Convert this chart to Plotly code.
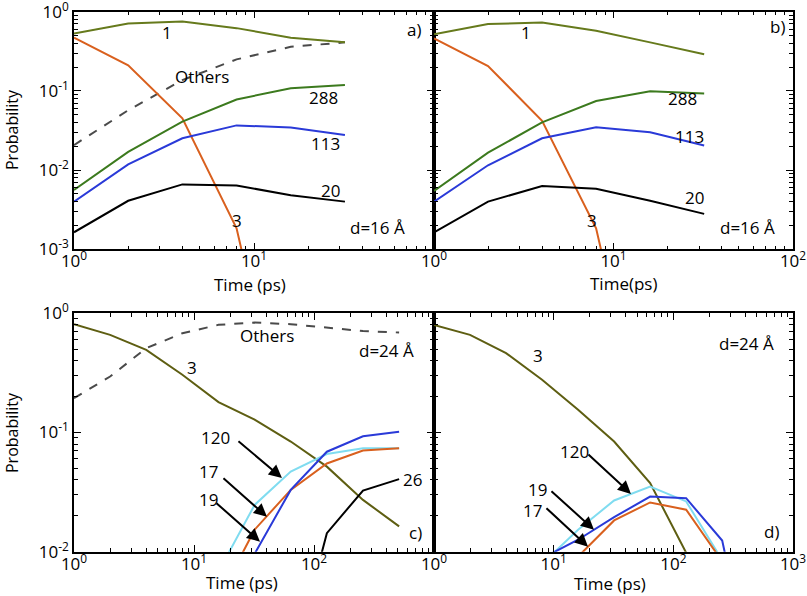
import plotly.graph_objects as go

# time points (ps)
t_top = [1, 2, 4, 8, 16, 32]
t_bot = [1, 2, 4, 8, 16, 32, 64, 128, 256, 512]

# panel a, d=16 A
a_1 = [0.53, 0.71, 0.75, 0.62, 0.47, 0.41]
a_3 = [0.47, 0.21, 0.045, 0.00184, 2e-6]
a_others = [0.0207, 0.057, 0.137, 0.25, 0.36, 0.41]
a_288 = [0.0056, 0.017, 0.041, 0.078, 0.108, 0.119]
a_113 = [0.004, 0.0118, 0.0252, 0.0367, 0.0344, 0.0277]
a_20 = [0.00164, 0.0041, 0.0066, 0.0064, 0.0048, 0.0040]

# panel b, d=16 A
b_1 = [0.52, 0.70, 0.73, 0.575, 0.41, 0.29]
b_3 = [0.46, 0.206, 0.042, 0.00184, 2e-6]
b_288 = [0.00545, 0.0166, 0.040, 0.0746, 0.099, 0.093]
b_113 = [0.004, 0.0115, 0.0252, 0.0347, 0.030, 0.0204]
b_20 = [0.00164, 0.004, 0.0063, 0.0058, 0.0041, 0.0028]

# panel c, d=24 A
c_3 = [0.81, 0.659, 0.493, 0.305, 0.18, 0.128, 0.084, 0.0517, 0.0272, 0.0163]
c_others = [0.194, 0.295, 0.51, 0.68, 0.80, 0.836, 0.81, 0.76, 0.71, 0.69]
t_c = [16, 32, 64, 128, 256, 512]
c_120 = [0.0068, 0.0247, 0.047, 0.066, 0.0738, 0.0738]
c_17 = [0.004, 0.0153, 0.033, 0.055, 0.0705, 0.0738]
c_19 = [0.0029, 0.0096, 0.033, 0.069, 0.093, 0.1016]
t_c26 = [64, 128, 256, 512]
c_26 = [0.001, 0.0143, 0.0326, 0.0406]

# panel d, d=24 A
d_3 = [0.80, 0.659, 0.463, 0.277, 0.155, 0.084, 0.0376, 0.0098, 0.001]
t_d = [8, 16, 32, 64, 128, 256, 512]
d_120 = [0.0079, 0.0153, 0.0269, 0.0352, 0.0264, 0.0085, 0.0005]
d_19 = [0.0088, 0.0126, 0.0195, 0.029, 0.0281, 0.0124, 0.0005]
d_17 = [0.005, 0.0091, 0.0183, 0.0259, 0.0225, 0.0083, 0.0005]

OLIVE = "#667a1c"
OLIVE2 = "#5e5e12"
GREEN = "#3c7a1e"
ORANGE = "#d9601e"
BLUE = "#2a3ad8"
CYAN = "#80dcf0"
GRAY = "#4a4a4a"
FONT = "Open Sans"
FS = 17
FS_TICK = 17

W, H = 807, 596

fig = go.Figure()


def line(x, y, color, ax, dash="solid"):
    fig.add_trace(go.Scatter(x=x, y=y, mode="lines", xaxis="x" + ax, yaxis="y" + ax,
                             line=dict(color=color, width=2, dash=dash),
                             showlegend=False, hoverinfo="skip"))


# a
line(t_top, a_others, GRAY, "", "dash")
line(t_top, a_1, OLIVE, "")
line(t_top[:5], a_3, ORANGE, "")
line(t_top, a_288, GREEN, "")
line(t_top, a_113, BLUE, "")
line(t_top, a_20, "black", "")
# b
line(t_top, b_1, OLIVE, "2")
line(t_top[:5], b_3, ORANGE, "2")
line(t_top, b_288, GREEN, "2")
line(t_top, b_113, BLUE, "2")
line(t_top, b_20, "black", "2")
# c
line(t_bot, c_others, GRAY, "3", "dash")
line(t_bot, c_3, OLIVE2, "3")
line(t_c, c_120, CYAN, "3")
line(t_c, c_17, ORANGE, "3")
line(t_c, c_19, BLUE, "3")
line(t_c26, c_26, "black", "3")
# d
line(t_bot[:9], d_3, OLIVE2, "4")
line(t_d, d_120, CYAN, "4")
line(t_d, d_17, ORANGE, "4")
line(t_d, d_19, BLUE, "4")


def sup(n):
    return "10<sup>%d</sup>" % n


def minor_vals(lo, hi):
    return [k * 10 ** e for e in range(lo, hi) for k in range(2, 10)]


def common():
    return dict(type="log", automargin=False, tickmode="array",
                ticks="inside", ticklen=7, tickwidth=1.2, tickcolor="black",
                showline=True, linecolor="black", linewidth=1.5, mirror="allticks",
                showgrid=False, zeroline=False, ticklabeloverflow="allow",
                tickfont=dict(family=FONT, size=FS_TICK, color="black"))


def xax(ndec, labels, dom, anchor):
    vals = [10 ** i for i in range(ndec + 1)]
    text = [sup(i) if i in labels else "" for i in range(ndec + 1)]
    d = common()
    d.update(range=[0, ndec], domain=dom, anchor=anchor, tickvals=vals, ticktext=text,
             ticklabelstandoff=-4,
             minor=dict(tickmode="array", tickvals=minor_vals(0, ndec), ticks="inside",
                        ticklen=4, tickcolor="black", showgrid=False))
    return d


def yax(lo, show, dom, anchor):
    vals = [10 ** i for i in range(lo, 1)]
    text = [sup(i) if show else "" for i in range(lo, 1)]
    d = common()
    d.update(range=[lo, 0], domain=dom, anchor=anchor, tickvals=vals, ticktext=text,
             minor=dict(tickmode="array", tickvals=minor_vals(lo, 0), ticks="inside",
                        ticklen=4, tickcolor="black", showgrid=False))
    return d


xl, xm, xr = 74 / W, 434 / W, 793 / W
top_dom = [1 - 249.3 / H, 1 - 11.7 / H]
bot_dom = [1 - 551.7 / H, 1 - 313.3 / H]

fig.update_layout(
    width=W, height=H, margin=dict(l=0, r=0, t=0, b=0, pad=0), autosize=False,
    paper_bgcolor="white", plot_bgcolor="white",
    font=dict(family=FONT, size=FS, color="black"),
    xaxis=xax(2, [0, 1], [xl, xm], "y"),
    yaxis=yax(-3, True, top_dom, "x"),
    xaxis2=xax(2, [0, 1, 2], [xm, xr], "y2"),
    yaxis2=yax(-3, False, top_dom, "x2"),
    xaxis3=xax(3, [0, 1, 2], [xl, xm], "y3"),
    yaxis3=yax(-2, True, bot_dom, "x3"),
    xaxis4=xax(3, [0, 1, 2, 3], [xm, xr], "y4"),
    yaxis4=yax(-2, False, bot_dom, "x4"),
)

ann = []


def txt(ax, lx, ly, s):
    ann.append(dict(x=lx, y=ly, xref="x" + ax, yref="y" + ax, text=s, showarrow=False,
                    xanchor="center", yanchor="middle",
                    font=dict(family=FONT, size=FS, color="black")))


def arrow(ax, tx, ty, hx, hy):
    ann.append(dict(x=hx, y=hy, ax=tx, ay=ty, xref="x" + ax, yref="y" + ax,
                    axref="x" + ax, ayref="y" + ax, text="", showarrow=True,
                    arrowhead=2, arrowsize=1.3, arrowwidth=2, arrowcolor="black"))


# a labels (positions in log10 units)
txt("", 0.518, -0.266, "1")
txt("", 1.889, -0.22, "a)")
txt("", 0.713, -0.82, "Others")
txt("", 1.387, -1.086, "288")
txt("", 1.398, -1.667, "113")
txt("", 1.426, -2.26, "20")
txt("", 0.908, -2.63, "3")
txt("", 1.688, -2.72, "d=16 Å")
# b labels
txt("2", 0.513, -0.266, "1")
txt("2", 1.911, -0.19, "b)")
txt("2", 1.382, -1.09, "288")
txt("2", 1.426, -1.57, "113")
txt("2", 1.454, -2.34, "20")
txt("2", 0.88, -2.63, "3")
txt("2", 1.749, -2.73, "d=16 Å")
# c labels
txt("3", 1.608, -0.184, "Others")
txt("3", 2.608, -0.31, "d=24 Å")
txt("3", 0.983, -0.452, "3")
txt("3", 1.175, -1.046, "120")
txt("3", 1.117, -1.33, "17")
txt("3", 1.117, -1.565, "19")
txt("3", 2.817, -1.397, "26")
txt("3", 2.842, -1.84, "c)")
arrow("3", 1.358, -1.063, 1.733, -1.381)
arrow("3", 1.233, -1.372, 1.608, -1.707)
arrow("3", 1.175, -1.582, 1.55, -1.916)
# d labels
txt("4", 0.869, -0.351, "3")
txt("4", 2.615, -0.251, "d=24 Å")
txt("4", 2.824, -1.833, "d)")
txt("4", 1.178, -1.163, "120")
txt("4", 0.869, -1.481, "19")
txt("4", 0.827, -1.657, "17")
arrow("4", 1.278, -1.172, 1.646, -1.515)
arrow("4", 0.969, -1.481, 1.337, -1.816)
arrow("4", 0.927, -1.623, 1.287, -1.958)

# axis titles
for x, y, s in [(250, 284, "Time (ps)"), (623, 283, "Time(ps)"),
                (242, 582, "Time (ps)"), (610, 583, "Time (ps)")]:
    ann.append(dict(x=x / W, y=1 - y / H, xref="paper", yref="paper", text=s,
                    xanchor="center", yanchor="middle",
                    showarrow=False, font=dict(family=FONT, size=FS, color="black")))
for y in [130, 433]:
    ann.append(dict(x=12 / W, y=1 - y / H, xref="paper", yref="paper", text="Probability",
                    xanchor="center", yanchor="middle",
                    textangle=-90, showarrow=False,
                    font=dict(family=FONT, size=16, color="black")))

fig.update_layout(annotations=ann)
# the page body has a default 8px margin; drop it so the figure fills the window
fig.write_html("out.html", config={"displayModeBar": False},
               post_script="document.body.style.margin = '0';")
